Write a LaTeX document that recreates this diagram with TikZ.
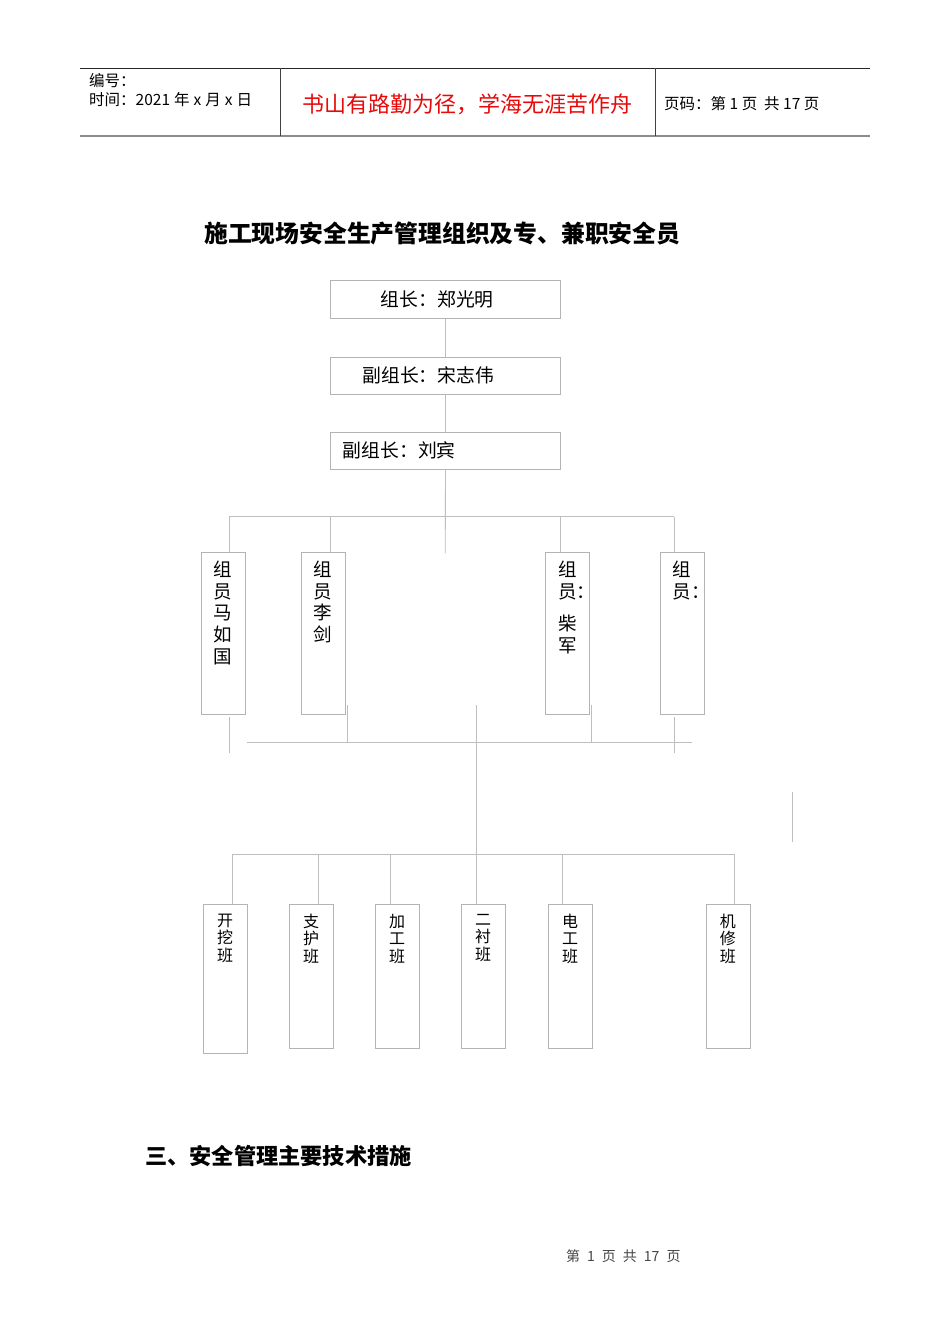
\documentclass[tikz,border=0pt]{standalone}
\usepackage{fontspec}
\setmainfont{Noto Sans CJK SC}
\definecolor{linegray}{RGB}{190,190,190}
\definecolor{boxgray}{RGB}{180,180,180}
\definecolor{hdred}{RGB}{230,10,10}
\definecolor{footgray}{RGB}{70,70,70}
\tikzset{
  ln/.style={draw=linegray, line width=0.9pt},
  box/.style={draw=boxgray, line width=0.9pt, inner sep=0pt, minimum width=229.7pt, minimum height=37.3pt, anchor=north west},
  vbox/.style={draw=boxgray, line width=0.9pt, inner sep=0pt, minimum width=43.4pt, minimum height=162pt, anchor=north west},
  bbox/.style={draw=boxgray, line width=0.9pt, inner sep=0pt, minimum width=43.4pt, minimum height=144.3pt, anchor=north west},
  htext/.style={inner sep=0pt, anchor=west, font=\fontsize{18.8}{22}\selectfont},
  vtext/.style={inner sep=0pt, anchor=north west, align=left, font=\fontsize{18.5}{21.7}\selectfont},
  btext/.style={inner sep=0pt, anchor=north, align=center, font=\fontsize{16}{17.5}\selectfont},
  hdtext/.style={inner sep=0pt, anchor=west, font=\fontsize{15.5}{18}\selectfont},
}
\begin{document}
\begin{tikzpicture}[x=1pt,y=-1pt]
\fill[white] (0,0) rectangle (950,1344);
\useasboundingbox (0,0) rectangle (950,1344);

% ---------- header ----------
\coordinate (hTL) at (80,68.3);
\coordinate (hTR) at (870,68.3);
\coordinate (hBL) at (80,136);
\coordinate (hBR) at (870,136);
\coordinate (hS1) at (280.5,68.3);
\coordinate (hS2) at (655,68.3);
\draw[black!85, line width=1.2pt] (hTL) -- (hTR);
\draw[black!45, line width=2pt] (hBL) -- (hBR);
\draw[black!75, line width=1pt] (hS1) -- (hS1 |- hBL);
\draw[black!75, line width=1pt] (hS2) -- (hS2 |- hBL);
\node[hdtext] (hnum) at (89,80.5) {编号：};
\node[hdtext] (hdate) at (89,99.3) {时间：2021\hspace{4pt}年\hspace{4pt}x\hspace{4pt}月\hspace{4pt}x\hspace{4pt}日};
\node[inner sep=0pt, anchor=west, text=hdred, font=\fontsize{22}{24}\selectfont] (motto) at (302,104) {书山有路勤为径，学海无涯苦作舟};
\node[hdtext] (hpage) at (664,103.3) {页码：第 1 页\ \ 共 17 页};

% ---------- title ----------
\node[inner sep=0pt, anchor=west, font=\bfseries\fontsize{23.8}{26}\selectfont] (title) at (204,234) {施工现场安全生产管理组织及专、兼职安全员};

% ---------- leaders ----------
\node[box] (lead) at (330.3,280.3) {};
\node[box] (dep1) at (330.3,356.9) {};
\node[box] (dep2) at (330.3,431.9) {};
\node[htext] (leadt) at (380.7,299) {组长：郑光明};
\node[htext] (dep1t) at (362.3,375.5) {副组长：宋志伟};
\node[htext] (dep2t) at (342.7,450.5) {副组长：刘宾};

\draw[ln] (lead) -- (dep1);
\draw[ln] (dep1) -- (dep2);
\coordinate (hubU) at (445.2,553.3);
\draw[ln] (dep2) -- (hubU);

% ---------- members ----------
\node[vbox] (mA) at (201.3,552.3) {};
\node[vbox] (mB) at (301.3,552.3) {};
\node[vbox] (mC) at (545.3,552.3) {};
\node[vbox] (mD) at (660.3,552.3) {};
\node[vtext] (mAt) at (213.2,560.8) {组\\员\\马\\如\\国};
\node[vtext] (mBt) at (313.6,560.8) {组\\员\\李\\剑};
\node[vtext] (mCt) at (558.1,560.8) {组\\员：\\[10.5pt]柴\\军};
\node[vtext] (mDt) at (672.6,560.8) {组\\员：};

\coordinate (ubL) at (229.3,516.7);
\coordinate (ubB) at (330.3,516.7);
\coordinate (ubC) at (560.3,516.7);
\coordinate (ubR) at (674.3,516.7);
\draw[ln] (ubL) -- (ubR);
\draw[ln] (ubL) -- (ubL |- mA.north);
\draw[ln] (ubB) -- (ubB |- mB.north);
\draw[ln] (ubC) -- (ubC |- mC.north);
\draw[ln] (ubR) -- (ubR |- mD.north);

% ---------- lower bus ----------
\coordinate (lbL) at (246.7,742.3);
\coordinate (lbR) at (691.7,742.3);
\draw[ln] (lbL) -- (lbR);
\coordinate (dA1) at (229.3,716.7);
\coordinate (dA2) at (229.3,753.3);
\draw[ln] (dA1) -- (dA2);
\coordinate (dB1) at (347,705);
\draw[ln] (dB1) -- (dB1 |- lbL);
\coordinate (dC1) at (591.7,705);
\draw[ln] (dC1) -- (dC1 |- lbL);
\coordinate (dD1) at (674.3,716.7);
\coordinate (dD2) at (674.3,753.3);
\draw[ln] (dD1) -- (dD2);
\coordinate (stA) at (792.3,792.3);
\coordinate (stB) at (792.3,841.7);
\draw[ln] (stA) -- (stB);

% ---------- teams ----------
\node[bbox, minimum height=149.3pt] (t1) at (203.3,904) {};
\node[bbox] (t2) at (289.3,904) {};
\node[bbox] (t3) at (375.3,904) {};
\node[bbox] (t4) at (461.3,904) {};
\node[bbox] (t5) at (548.3,904) {};
\node[bbox] (t6) at (706.3,904) {};
\node[btext] (t1t) at (225,913.7) {开\\挖\\班};
\node[btext] (t2t) at (311,913.7) {支\\护\\班};
\node[btext] (t3t) at (397,913.7) {加\\工\\班};
\node[btext] (t4t) at (483,913.7) {二\\衬\\班};
\node[btext] (t5t) at (570,913.7) {电\\工\\班};
\node[btext] (t6t) at (727.8,913.7) {机\\修\\班};

\coordinate (hubL) at (476.3,705);
\draw[ln] (hubL) -- (hubL |- t4.north);
\coordinate (bbL) at (232.3,854.3);
\coordinate (bb2) at (318.3,854.3);
\coordinate (bb3) at (390.3,854.3);
\coordinate (bb5) at (562.3,854.3);
\coordinate (bbR) at (734.3,854.3);
\draw[ln] (bbL) -- (bbR);
\draw[ln] (bbL) -- (bbL |- t1.north);
\draw[ln] (bb2) -- (bb2 |- t2.north);
\draw[ln] (bb3) -- (bb3 |- t3.north);
\draw[ln] (bb5) -- (bb5 |- t5.north);
\draw[ln] (bbR) -- (bbR |- t6.north);

% ---------- section heading and footer ----------
\node[inner sep=0pt, anchor=west, font=\bfseries\fontsize{22.2}{24}\selectfont] (sect) at (145,1156) {三、安全管理主要技术措施};
\node[inner sep=0pt, anchor=west, text=footgray, font=\fontsize{14}{16}\selectfont] (foot) at (566,1256) {第\hspace{7pt}1\hspace{7pt}页\hspace{7pt}共\hspace{7pt}17\hspace{7pt}页};
\end{tikzpicture}
\end{document}
